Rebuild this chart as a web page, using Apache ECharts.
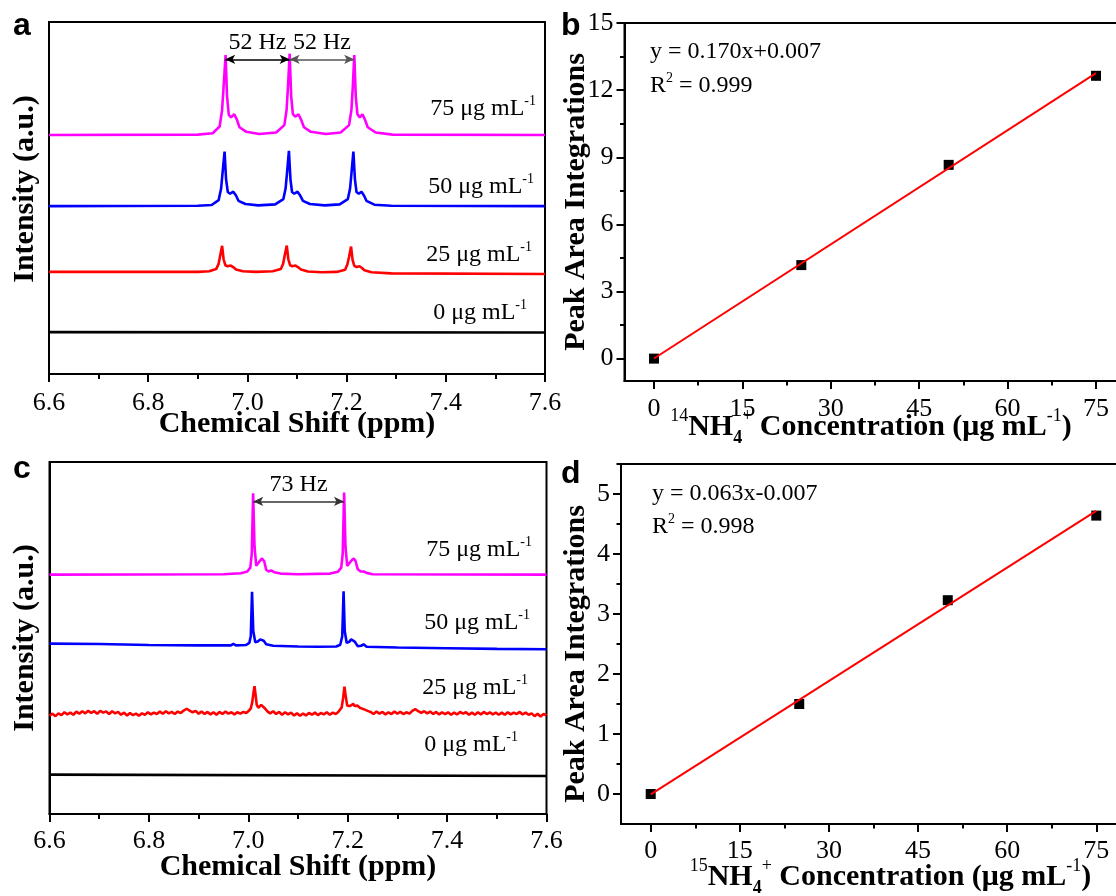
<!DOCTYPE html>
<html>
<head>
<meta charset="utf-8">
<script src="https://cdn.jsdelivr.net/npm/echarts@6/dist/echarts.min.js"></script>
<style>
html, body { margin: 0; padding: 0; background: #fff; }
#chart { width: 1116px; height: 896px; }
</style>
</head>
<body>
<div id="chart"></div>
<script>
// ---------- tick labels ----------
const ppmTicks = [6.6, 6.8, 7.0, 7.2, 7.4, 7.6];
const concTicks = [0, 15, 30, 45, 60, 75];
const area14Ticks = [0, 3, 6, 9, 12, 15];
const area15Ticks = [0, 1, 2, 3, 4, 5];

// ---------- calibration data ----------
const concentrations = [0, 25, 50, 75];           // µg mL-1
const area14 = [0.00, 4.18, 8.66, 12.64];         // 14NH4+ peak area
const area15 = [0.00, 1.50, 3.23, 4.64];          // 15NH4+ peak area
const fit14 = [0.170, 0.007];                     // slope, intercept
const fit15 = [0.063, -0.007];
const r2of14 = 0.999;
const r2of15 = 0.998;

// ---------- splittings ----------
const fieldMHz = 400;
const coupling14Hz = 52;   // 1J(14N-H) triplet
const coupling15Hz = 73;   // 1J(15N-H) doublet
const center14 = 7.0852;
const center15 = 7.1012;

// ---------- 1H NMR traces, 14NH4+ (ppm, stacked intensity) ----------
const spec14_0 = [[6.600, 11.9], [7.600, 11.8]];
const spec14_25 = [[6.600,29.0],[6.900,29.0],[6.923,29.2],[6.937,29.8],[6.942,31.3],[6.945,33.5],[6.949,36.4],[6.952,32.6],[6.9555,30.9],[6.960,30.6],[6.9665,30.8],[6.972,30.3],[6.977,29.7],[6.991,29.2],[7.017,29.0],[7.051,29.2],[7.0675,29.8],[7.072,31.3],[7.075,33.5],[7.0794,36.5],[7.0825,32.6],[7.086,30.9],[7.0905,30.6],[7.097,30.8],[7.1025,30.3],[7.108,29.7],[7.122,29.1],[7.150,28.9],[7.180,29.0],[7.197,29.6],[7.2015,31.1],[7.205,33.3],[7.209,36.2],[7.212,32.4],[7.2155,30.7],[7.220,30.4],[7.226,30.6],[7.231,30.1],[7.236,29.5],[7.250,28.9],[7.290,28.6],[7.600,28.4]];
const spec14_50 = [[6.600,47.7],[6.900,47.8],[6.928,48.0],[6.942,49.4],[6.947,52.7],[6.950,57.3],[6.954,63.2],[6.957,55.3],[6.9605,51.7],[6.965,51.2],[6.9715,51.8],[6.977,50.7],[6.982,49.2],[6.996,48.3],[7.022,47.9],[7.056,48.2],[7.0725,49.7],[7.077,52.7],[7.080,57.3],[7.0837,63.4],[7.0868,55.3],[7.090,51.7],[7.0945,51.2],[7.101,51.8],[7.1065,50.7],[7.112,49.2],[7.126,48.3],[7.156,47.9],[7.186,48.2],[7.2025,49.7],[7.207,52.7],[7.210,57.3],[7.2137,63.2],[7.2168,55.3],[7.220,51.7],[7.2245,51.2],[7.230,51.8],[7.235,50.7],[7.240,49.2],[7.256,48.1],[7.290,47.8],[7.600,47.7]];
const spec14_75 = [[6.600,67.9],[6.900,68.0],[6.930,68.4],[6.944,70.3],[6.949,75.0],[6.952,81.6],[6.956,90.6],[6.959,78.8],[6.9625,73.6],[6.967,72.9],[6.9735,73.8],[6.979,72.2],[6.984,70.1],[6.998,68.8],[7.024,68.2],[7.058,68.6],[7.0745,70.7],[7.079,75.0],[7.0818,81.6],[7.0852,91.0],[7.0883,78.8],[7.0917,73.8],[7.0964,73.1],[7.103,73.8],[7.1085,72.2],[7.114,70.1],[7.128,68.8],[7.158,68.2],[7.188,68.6],[7.205,70.7],[7.2097,75.0],[7.2125,81.6],[7.2155,90.6],[7.2185,78.8],[7.2218,73.8],[7.2266,72.9],[7.232,73.8],[7.2372,72.2],[7.2426,70.1],[7.2586,68.6],[7.2925,68.0],[7.600,67.9]];

// ---------- 1H NMR traces, 15NH4+ (ppm, stacked intensity) ----------
const spec15_0 = [[6.600, 11.2], [7.600, 10.8]];
const spec15_25 = [[6.600,27.9],[6.606,28.5],[6.612,27.8],[6.618,28.6],[6.624,28.1],[6.630,28.9],[6.636,28.3],[6.642,28.8],[6.648,28.2],[6.654,29.1],[6.660,28.5],[6.666,29.2],[6.672,28.6],[6.678,29.3],[6.684,28.7],[6.690,29.2],[6.696,28.5],[6.702,29.3],[6.708,28.8],[6.714,29.1],[6.720,28.4],[6.726,29.2],[6.732,28.6],[6.738,29.0],[6.744,28.2],[6.750,28.8],[6.756,28.0],[6.762,28.7],[6.768,28.1],[6.774,28.5],[6.780,27.9],[6.786,28.6],[6.792,28.2],[6.798,28.9],[6.804,28.3],[6.810,28.8],[6.816,28.4],[6.822,29.1],[6.828,28.5],[6.834,29.2],[6.840,28.6],[6.846,29.0],[6.852,28.4],[6.858,29.1],[6.864,28.7],[6.870,29.4],[6.876,29.9],[6.882,29.4],[6.888,28.9],[6.894,29.3],[6.900,28.5],[6.906,29.1],[6.912,28.4],[6.918,29.0],[6.924,28.3],[6.930,28.9],[6.936,28.2],[6.942,29.0],[6.948,28.4],[6.954,29.1],[6.960,28.5],[6.966,28.9],[6.972,28.3],[6.978,28.9],[6.984,28.5],[6.990,29.0],[6.996,28.7],[7.001,29.3],[7.005,30.0],[7.008,31.8],[7.0105,34.5],[7.0125,36.3],[7.0145,34.0],[7.017,31.0],[7.020,30.2],[7.023,30.6],[7.026,31.0],[7.029,30.9],[7.032,30.2],[7.035,29.8],[7.039,29.1],[7.044,28.6],[7.050,29.2],[7.056,28.4],[7.062,29.0],[7.068,28.2],[7.074,28.9],[7.080,28.3],[7.086,28.8],[7.092,28.0],[7.098,28.6],[7.104,27.9],[7.110,28.5],[7.116,28.0],[7.122,28.7],[7.128,28.2],[7.134,28.8],[7.140,28.1],[7.146,28.7],[7.152,28.3],[7.158,28.9],[7.164,28.2],[7.170,28.8],[7.176,28.4],[7.181,29.0],[7.185,29.3],[7.188,30.3],[7.191,33.2],[7.1935,36.2],[7.196,33.5],[7.199,30.8],[7.202,30.3],[7.205,30.7],[7.208,31.0],[7.211,31.3],[7.214,30.7],[7.217,30.4],[7.220,30.8],[7.224,30.2],[7.228,30.5],[7.232,29.8],[7.236,30.1],[7.240,29.3],[7.246,29.0],[7.252,28.4],[7.258,29.1],[7.264,28.5],[7.270,29.0],[7.276,28.3],[7.282,28.9],[7.288,28.4],[7.294,29.1],[7.300,28.5],[7.306,29.0],[7.312,28.4],[7.318,28.9],[7.324,28.5],[7.330,29.3],[7.336,29.8],[7.342,29.2],[7.348,28.7],[7.354,29.2],[7.360,28.6],[7.366,29.1],[7.372,28.4],[7.378,29.0],[7.384,28.3],[7.390,28.9],[7.396,28.4],[7.402,28.9],[7.408,28.2],[7.414,28.8],[7.420,28.3],[7.426,29.0],[7.432,28.5],[7.438,28.9],[7.444,28.2],[7.450,28.8],[7.456,28.2],[7.462,28.9],[7.468,28.3],[7.474,29.0],[7.480,28.4],[7.486,28.9],[7.492,28.3],[7.498,28.8],[7.504,28.2],[7.510,28.8],[7.516,28.2],[7.522,28.9],[7.528,28.3],[7.534,28.8],[7.540,28.4],[7.546,29.0],[7.552,28.3],[7.558,28.8],[7.564,28.2],[7.570,28.6],[7.576,27.8],[7.582,28.5],[7.588,27.7],[7.594,28.4],[7.600,28.0]];
const spec15_50 = [[6.600,48.4],[6.700,48.3],[6.800,48.0],[6.900,47.9],[6.965,47.9],[6.970,48.3],[6.975,47.9],[6.995,48.0],[7.002,48.6],[7.005,50.5],[7.0075,63.1],[7.010,52.0],[7.014,48.8],[7.019,49.0],[7.024,49.6],[7.027,49.7],[7.031,49.2],[7.036,48.2],[7.050,47.8],[7.100,47.6],[7.140,47.5],[7.177,47.6],[7.185,48.1],[7.189,50.5],[7.1917,63.3],[7.194,52.0],[7.198,48.6],[7.203,48.9],[7.207,49.6],[7.210,49.7],[7.214,49.0],[7.220,47.7],[7.227,47.8],[7.232,48.2],[7.238,47.5],[7.300,47.3],[7.400,47.1],[7.500,46.9],[7.600,46.8]];
const spec15_75 = [[6.600,68.0],[6.950,68.1],[6.985,68.4],[6.998,68.9],[7.004,70.0],[7.007,74.0],[7.0097,91.1],[7.0125,76.0],[7.016,70.5],[7.020,70.2],[7.024,72.0],[7.0276,72.6],[7.032,71.8],[7.036,69.4],[7.041,68.9],[7.046,69.2],[7.052,68.7],[7.065,68.3],[7.100,68.1],[7.165,68.3],[7.180,68.8],[7.187,70.0],[7.190,74.0],[7.1928,91.3],[7.1955,76.0],[7.199,70.5],[7.203,70.3],[7.208,72.1],[7.2123,72.6],[7.216,71.8],[7.220,69.6],[7.226,68.9],[7.232,68.9],[7.238,68.5],[7.250,68.1],[7.600,68.0]];

// ---------- styling ----------
const SERIF = '"Liberation Serif", "Times New Roman", serif';
const SANS = '"Liberation Sans", Arial, sans-serif';
const traceColors = ['#000000', '#ff0000', '#0000ff', '#ff00ff'];
const TICK_FONT = 26;

const midpoints = arr => arr.slice(1).map((v, i) => (v + arr[i]) / 2);

function mainAxis(gridIndex, position, min, max, ticks, fmt, margin, extra) {
  return Object.assign({
    type: 'value', gridIndex, position, min, max,
    nameMoveOverlap: false,
    axisLine: { show: true, onZero: false, lineStyle: { color: '#000', width: 2 } },
    axisTick: { show: true, customValues: ticks, length: 8, lineStyle: { color: '#000', width: 2 } },
    axisLabel: { show: true, customValues: ticks, formatter: fmt, margin,
      fontFamily: SERIF, fontSize: TICK_FONT, color: '#000' },
    splitLine: { show: false }
  }, extra || {});
}
function minorAxis(gridIndex, position, min, max, ticks, len) {
  return {
    type: 'value', gridIndex, position, min, max,
    axisLine: { show: false, onZero: false },
    axisTick: { show: true, customValues: ticks, length: len, lineStyle: { color: '#000', width: 2 } },
    axisLabel: { show: false },
    splitLine: { show: false }
  };
}
const ppmFmt = v => v.toFixed(1);
const intFmt = v => String(Math.round(v));

const titleStyle = { fontFamily: SERIF, fontWeight: 'bold', fontSize: 30, color: '#000' };
function concTitle(mass) {
  return {
    text: '{sup|' + mass + '}{b|NH}{sub|4}{sup|+}{b| Concentration (μg mL}{sup|-1}{b|)}',
    rich: {
      b: { fontFamily: SERIF, fontWeight: 'bold', fontSize: 30, lineHeight: 40, color: '#000' },
      sup: { fontFamily: SERIF, fontSize: 18, lineHeight: 16, verticalAlign: 'top', color: '#000' },
      sub: { fontFamily: SERIF, fontWeight: 'bold', fontSize: 18, lineHeight: 16, verticalAlign: 'bottom', color: '#000' }
    }
  };
}

const ct14 = concTitle(14);
const ct15 = concTitle(15);

const xAxes = [
  // a
  mainAxis(0, 'bottom', 6.6, 7.6, ppmTicks, ppmFmt, 16, {
    name: 'Chemical Shift (ppm)', nameLocation: 'middle', nameGap: 35, nameTextStyle: titleStyle }),
  minorAxis(0, 'bottom', 6.6, 7.6, midpoints(ppmTicks), 5),
  // b
  mainAxis(1, 'bottom', -5, 80, concTicks, intFmt, 15, {
    name: ct14.text, nameLocation: 'middle', nameGap: 26,
    nameTextStyle: { rich: ct14.rich, padding: [0, 8, 0, 0] } }),
  minorAxis(1, 'bottom', -5, 80, midpoints(concTicks), 4.5),
  // c
  mainAxis(2, 'bottom', 6.6, 7.6, ppmTicks, ppmFmt, 14, {
    name: 'Chemical Shift (ppm)', nameLocation: 'middle', nameGap: 38, nameTextStyle: titleStyle }),
  minorAxis(2, 'bottom', 6.6, 7.6, midpoints(ppmTicks), 5),
  // d
  mainAxis(3, 'bottom', -5, 80, concTicks, intFmt, 14, {
    name: ct15.text, nameLocation: 'middle', nameGap: 33,
    nameTextStyle: { rich: ct15.rich, padding: [0, 0, 0, 34] } }),
  minorAxis(3, 'bottom', -5, 80, midpoints(concTicks), 4.5)
];

const intensityAxis = (gridIndex, pad) => ({
  type: 'value', gridIndex, position: 'left', min: 0, max: 100,
  nameMoveOverlap: false,
  axisLine: { show: true, onZero: false, lineStyle: { color: '#000', width: 2 } },
  axisTick: { show: false }, axisLabel: { show: false }, splitLine: { show: false },
  name: 'Intensity (a.u.)', nameLocation: 'middle', nameGap: 9,
  nameTextStyle: Object.assign({}, titleStyle, { padding: pad })
});

const yAxes = [
  intensityAxis(0, [0, 0, 0, 18]),
  mainAxis(1, 'left', -1, 15, area14Ticks, intFmt, 11, {
    name: 'Peak Area Integrations', nameLocation: 'middle', nameGap: 33, nameTextStyle: titleStyle }),
  minorAxis(1, 'left', -1, 15, midpoints(area14Ticks), 4.5),
  intensityAxis(2, [0, 0, 0, 0]),
  mainAxis(3, 'left', -0.5, 5.5, area15Ticks, intFmt, 11, {
    name: 'Peak Area Integrations', nameLocation: 'middle', nameGap: 30,
    nameTextStyle: Object.assign({}, titleStyle, { padding: [0, 20, 0, 0] }) }),
  minorAxis(3, 'left', -0.5, 5.5, midpoints(area15Ticks).concat([5.5]), 4.5)
];

const gridBase = { show: true, borderColor: '#000', borderWidth: 2, backgroundColor: 'transparent',
  containLabel: false, outerBoundsMode: 'none' };
const grids = [
  Object.assign({ left: 49, top: 22, width: 496, height: 352 }, gridBase),
  Object.assign({ left: 624.5, top: 23, width: 501, height: 358 }, gridBase),
  Object.assign({ left: 49.5, top: 462, width: 497, height: 352 }, gridBase),
  Object.assign({ left: 621, top: 464, width: 505, height: 360 }, gridBase)
];

function trace(data, color, xi, yi, extra) {
  return Object.assign({
    type: 'line', data, xAxisIndex: xi, yAxisIndex: yi,
    showSymbol: false, symbol: 'none', smooth: false, silent: true,
    lineStyle: { color, width: 2.6 }, z: 3
  }, extra || {});
}

function splittingLine(a, b, level, color, hz) {
  return [
    { coord: [a, level], lineStyle: { color, width: 1.6, type: 'solid' },
      label: { show: true, formatter: hz + ' Hz' } },
    { coord: [b, level] }
  ];
}
const markLineBase = {
  silent: true, symbol: ['arrow', 'arrow'], symbolSize: [7, 10], animation: false,
  label: { show: true, position: 'insideMiddleTop', distance: 5,
    fontFamily: SERIF, fontSize: 24, color: '#000' }
};

const d14 = coupling14Hz / fieldMHz;
const d15 = coupling15Hz / fieldMHz;
const arrowLevelA = 89.4;
const arrowLevelC = 88.8;

const specSeries14 = [spec14_0, spec14_25, spec14_50, spec14_75];
const specSeries15 = [spec15_0, spec15_25, spec15_50, spec15_75];

const series = [];
specSeries14.forEach((d, i) => {
  const extra = i === 3 ? { markLine: Object.assign({}, markLineBase, { data: [
    splittingLine(center14 - d14, center14, arrowLevelA, '#000', coupling14Hz),
    splittingLine(center14, center14 + d14, arrowLevelA, '#555', coupling14Hz)
  ] }) } : {};
  series.push(trace(d, traceColors[i], 0, 0, extra));
});
specSeries15.forEach((d, i) => {
  const extra = i === 3 ? { markLine: Object.assign({}, markLineBase, { data: [
    splittingLine(center15 - d15 / 2, center15 + d15 / 2, arrowLevelC, '#333', coupling15Hz)
  ] }) } : {};
  series.push(trace(d, traceColors[i], 4, 3, extra));
});

function calibration(areas, fit, xi, yi) {
  const x0 = concentrations[0], x1 = concentrations[concentrations.length - 1];
  return [
    { type: 'scatter', xAxisIndex: xi, yAxisIndex: yi, silent: true,
      data: concentrations.map((c, i) => [c, areas[i]]),
      symbol: 'rect', symbolSize: 10, itemStyle: { color: '#000', opacity: 1 }, z: 3 },
    { type: 'line', xAxisIndex: xi, yAxisIndex: yi, silent: true,
      data: [[x0, fit[0] * x0 + fit[1]], [x1, fit[0] * x1 + fit[1]]],
      showSymbol: false, symbol: 'none', lineStyle: { color: '#ff0000', width: 2 }, z: 4 }
  ];
}
series.push(...calibration(area14, fit14, 2, 1));
series.push(...calibration(area15, fit15, 6, 4));

// ---------- text annotations ----------
const supRich = {
  n: { fontFamily: SERIF, fontSize: 24, lineHeight: 30, color: '#000' },
  s: { fontFamily: SERIF, fontSize: 14, lineHeight: 12, verticalAlign: 'top', color: '#000' }
};
function concLabel(value, x, y) {
  return { type: 'text', x, y, silent: true,
    style: { text: '{n|' + value + ' μg mL}{s|-1}', rich: supRich, align: 'right', verticalAlign: 'middle' } };
}
function eqText(fit) {
  const s = fit[0].toFixed(3);
  const b = (fit[1] >= 0 ? '+' : '-') + Math.abs(fit[1]).toFixed(3);
  return 'y = ' + s + 'x' + b;
}
function plainText(text, x, y) {
  return { type: 'text', x, y, silent: true,
    style: { text, font: '24px ' + SERIF, fill: '#000', align: 'left', verticalAlign: 'middle' } };
}
function r2Text(r2, x, y) {
  return { type: 'text', x, y, silent: true,
    style: { text: '{n|R}{s|2}{n| = ' + r2.toFixed(3) + '}', rich: supRich, align: 'left', verticalAlign: 'middle' } };
}
function panelLetter(ch, x, y) {
  return { type: 'text', x, y, silent: true,
    style: { text: ch, font: 'bold 32px ' + SANS, fill: '#000', align: 'left', verticalAlign: 'middle' } };
}

const labelPosA = [[527, 313], [532, 255], [534, 187], [536, 109]];
const labelPosC = [[518, 745], [528, 688], [530, 623], [532, 550]];

const graphic = [];
concentrations.forEach((c, i) => {
  graphic.push(concLabel(c, labelPosA[i][0], labelPosA[i][1]));
  graphic.push(concLabel(c, labelPosC[i][0], labelPosC[i][1]));
});
graphic.push(plainText(eqText(fit14), 650, 52));
graphic.push(r2Text(r2of14, 650, 86));
graphic.push(plainText(eqText(fit15), 652, 494));
graphic.push(r2Text(r2of15, 652, 527));
graphic.push(panelLetter('a', 13, 26));
graphic.push(panelLetter('b', 561, 26));
graphic.push(panelLetter('c', 13, 469));
graphic.push(panelLetter('d', 561, 474));

const chart = echarts.init(document.getElementById('chart'), null, { renderer: 'canvas' });
chart.setOption({
  animation: false,
  backgroundColor: '#ffffff',
  grid: grids,
  xAxis: xAxes,
  yAxis: yAxes,
  series,
  graphic
});
</script>
</body>
</html>
